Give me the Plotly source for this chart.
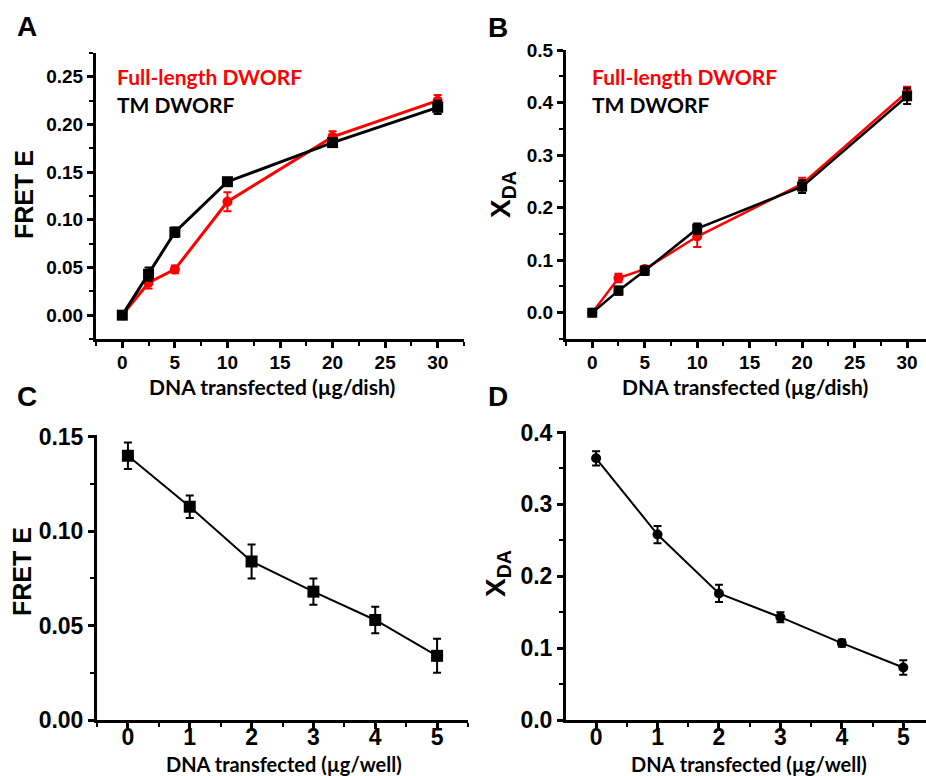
import plotly.graph_objects as go

# ---------------- data ----------------
dna_dish = [0, 2.5, 5, 10, 20, 30]
fretA_full = [0.0, 0.034, 0.048, 0.119, 0.187, 0.225]
fretA_full_err = [0.002, 0.006, 0.004, 0.010, 0.006, 0.006]
fretA_tm = [0.0, 0.043, 0.087, 0.140, 0.181, 0.218]
fretA_tm_err = [0.002, 0.007, 0.005, 0.003, 0.004, 0.007]

xdaB_full = [0.0, 0.066, 0.083, 0.145, 0.245, 0.420]
xdaB_full_err = [0.003, 0.008, 0.006, 0.020, 0.012, 0.010]
xdaB_tm = [0.0, 0.042, 0.080, 0.160, 0.240, 0.412]
xdaB_tm_err = [0.003, 0.008, 0.008, 0.010, 0.012, 0.015]

dna_well = [0, 1, 2, 3, 4, 5]
fretC = [0.140, 0.113, 0.084, 0.068, 0.053, 0.034]
fretC_err = [0.007, 0.006, 0.009, 0.007, 0.007, 0.009]
xdaD = [0.364, 0.258, 0.176, 0.143, 0.107, 0.073]
xdaD_err = [0.010, 0.012, 0.012, 0.007, 0.005, 0.010]

series_names = ["Full-length DWORF", "TM DWORF"]
panel_letters = ["A", "B", "C", "D"]
x_title_dish = "DNA transfected (µg/dish)"
x_title_well = "DNA transfected (µg/well)"

RED = "#FF0000"
BLK = "#000000"
W, H = 926, 776
TICKF = "Liberation Sans, Arial, sans-serif"
TXTF = "Lato, Open Sans, sans-serif"


def px_x(p):
    return p / W


def px_y(p):
    return 1 - p / H


fig = go.Figure()


def add(x, y, err, color, symbol, size, lw, xa, ya):
    fig.add_trace(go.Scatter(
        x=x, y=y, mode="lines+markers", xaxis=xa, yaxis=ya,
        line=dict(color=color, width=lw),
        marker=dict(color=color, symbol=symbol, size=size),
        error_y=dict(type="data", array=err, visible=True, color=color,
                     thickness=2, width=4),
        showlegend=False, cliponaxis=False))


add(dna_dish, fretA_full, fretA_full_err, RED, "circle", 10, 3, "x", "y")
add(dna_dish, fretA_tm, fretA_tm_err, BLK, "square", 11, 3, "x", "y")
add(dna_dish, xdaB_full, xdaB_full_err, RED, "circle", 10, 2.5, "x2", "y2")
add(dna_dish, xdaB_tm, xdaB_tm_err, BLK, "square", 10, 2.5, "x2", "y2")
add(dna_well, fretC, fretC_err, BLK, "square", 12, 2, "x3", "y3")
add(dna_well, xdaD, xdaD_err, BLK, "circle", 10, 2, "x4", "y4")


def xax(dom, rng, dtick, mdtick, anchor, fs, standoff=0):
    return dict(domain=dom, range=rng, anchor=anchor, showline=True, linewidth=3,
                linecolor="black", ticks="outside", ticklen=6, tickwidth=2.5,
                tickcolor="black", dtick=dtick, tick0=0, showgrid=False,
                zeroline=False, automargin=False, ticklabelstandoff=standoff,
                tickfont=dict(family=TICKF, size=fs, color="black", weight="bold"),
                minor=dict(ticks="outside", ticklen=4, tickwidth=2, tickcolor="black",
                           dtick=mdtick, tick0=0, showgrid=False))


def yax(dom, rng, dtick, mdtick, anchor, fs, fmt):
    d = xax(dom, rng, dtick, mdtick, anchor, fs)
    d["tickformat"] = fmt
    return d


fig.update_layout(
    width=W, height=H, margin=dict(l=0, r=0, t=0, b=0, autoexpand=False),
    paper_bgcolor="white", plot_bgcolor="white",
    xaxis=xax([px_x(96), px_x(464)], [-2.5, 32.5], 5, 2.5, "y", 19, standoff=-2),
    yaxis=yax([px_y(339), px_y(53)], [-0.025, 0.275], 0.05, 0.025, "x", 19, ".2f"),
    xaxis2=xax([px_x(566), 1.0], [-2.5, 31.8], 5, 2.5, "y2", 19, standoff=-2),
    yaxis2=yax([px_y(339), px_y(50)], [-0.05, 0.5], 0.1, 0.05, "x2", 19, ".1f"),
    xaxis3=xax([px_x(97), px_x(468)], [-0.5, 5.5], 1, 0.5, "y3", 23, standoff=-12),
    yaxis3=yax([px_y(720), px_y(435)], [0, 0.151], 0.05, 0.025, "x3", 23, ".2f"),
    xaxis4=xax([px_x(566), 1.0], [-0.49, 5.37], 1, 0.5, "y4", 23, standoff=-12),
    yaxis4=yax([px_y(720), px_y(431)], [0, 0.402], 0.1, 0.05, "x4", 23, ".1f"),
)

ann = []


def text(x, y, s, size, family, color="black", angle=0, weight="bold"):
    ann.append(dict(x=px_x(x), y=px_y(y), xref="paper", yref="paper", text=s,
                    showarrow=False, textangle=angle, xanchor="center",
                    yanchor="middle",
                    font=dict(family=family, size=size, color=color, weight=weight)))


# panel letters
text(27, 27, panel_letters[0], 28, TICKF)
text(498, 28, panel_letters[1], 28, TICKF)
text(27, 397, panel_letters[2], 28, TICKF)
text(498, 396, panel_letters[3], 28, TICKF)

# x titles
text(272, 386, x_title_dish, 21, TXTF)
text(745, 386, x_title_dish, 21, TXTF)
text(284, 764, x_title_well, 20, TXTF)
text(749, 764, x_title_well, 20, TXTF)

# y titles
text(24, 195, "FRET E", 25, TICKF, angle=-90)
text(22, 572, "FRET E", 25, TICKF, angle=-90)
text(502, 195, "X<sub>DA</sub>", 28, TICKF, angle=-90)
text(497, 574, "X<sub>DA</sub>", 28, TICKF, angle=-90)

# legend texts
for x0 in (115, 590):
    ann.append(dict(x=px_x(x0), y=px_y(77), xref="paper", yref="paper",
                    text=series_names[0], showarrow=False, xanchor="left",
                    yanchor="middle",
                    font=dict(family=TXTF, size=21, color=RED, weight="bold")))
    ann.append(dict(x=px_x(x0), y=px_y(105), xref="paper", yref="paper",
                    text=series_names[1], showarrow=False, xanchor="left",
                    yanchor="middle",
                    font=dict(family=TXTF, size=21, color=BLK, weight="bold")))

fig.update_layout(annotations=ann)
fig.write_html("out.html", config={"displayModeBar": False},
               post_script="document.body.style.margin='0px';"
                           "document.body.style.overflow='hidden';")
